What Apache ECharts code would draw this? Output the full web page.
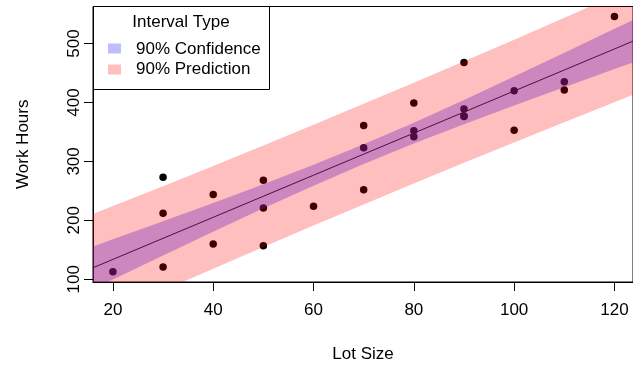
<!DOCTYPE html>
<html>
<head>
<meta charset="utf-8">
<script src="https://cdn.jsdelivr.net/npm/echarts@6/dist/echarts.min.js"></script>
<style>html,body{margin:0;padding:0;background:#fff;}#c{width:633px;height:371px;}</style>
</head>
<body>
<div id="c"></div>
<script>
// Observations
var lotSize = [80,30,50,90,70,60,120,80,100,50,40,70,90,20,110,100,30,50,90,110,30,90,40,80,70];
var workHours = [399,121,221,376,361,224,546,352,353,157,160,252,389,113,435,420,212,268,377,421,273,468,244,342,323];
// Band / fit values read along the lot-size grid
var bandX = [16,20,30,40,50,60,70,80,90,100,110,120,124];
var fitY = [119.49,133.77,169.47,205.17,240.88,276.58,312.28,347.98,383.68,419.39,455.09,490.79,505.07];
var ciLower = [83.28,99.65,140.39,180.71,220.35,258.82,295.55,330.22,363.15,394.93,426.01,456.67,468.86];
var ciUpper = [155.70,167.89,198.55,229.63,261.41,294.34,329.01,365.74,404.21,443.85,484.17,524.91,541.28];
var piLower = [28.32,43.41,80.89,118.00,154.73,191.05,226.95,262.45,297.53,332.22,366.51,400.43,413.90];
var piUpper = [210.66,224.13,258.05,292.34,327.03,362.11,397.61,433.51,469.83,506.56,543.67,581.15,596.24];
var xTicks = [20,40,60,80,100,120];
var yTicks = [100,200,300,400,500];
var legendNames = ['90% Confidence','90% Prediction'];

function pairs(xs, ys){ return xs.map(function(x,i){ return [x, ys[i]]; }); }
function bandSeries(name, lo, hi, fill, z){
  return {
    type:'custom', name:name, clip:true, z:z, data:[[bandX[0], lo[0]]],
    renderItem:function(params, api){
      var pts = [];
      for (var i=0;i<bandX.length;i++) pts.push(api.coord([bandX[i], hi[i]]));
      for (var j=bandX.length-1;j>=0;j--) pts.push(api.coord([bandX[j], lo[j]]));
      return {type:'polygon', shape:{points:pts}, style:{fill:fill}};
    }
  };
}

var FONT = 'Liberation Sans, Arial, sans-serif';
var chart = echarts.init(document.getElementById('c'), null, {renderer:'canvas'});
chart.setOption({
  animation:false,
  backgroundColor:'#fff',
  grid:{left:93, top:6.5, width:542, height:275.5, show:true, borderColor:'#000', borderWidth:1, backgroundColor:'transparent'},
  xAxis:{
    type:'value', min:16.03, max:123.7,
    name:'Lot Size', nameLocation:'middle', nameGap:64,
    nameTextStyle:{fontFamily:FONT, fontSize:17, color:'#000'},
    axisLine:{show:true, lineStyle:{color:'#000'}},
    axisTick:{show:true, length:9, lineStyle:{color:'#000'}, customValues:xTicks},
    axisLabel:{fontFamily:FONT, fontSize:17, color:'#000', margin:20, customValues:xTicks},
    splitLine:{show:false}
  },
  yAxis:{
    type:'value', min:95.4, max:562.8,
    name:'Work Hours', nameLocation:'middle', nameGap:61,
    nameTextStyle:{fontFamily:FONT, fontSize:17, color:'#000'},
    axisLine:{show:true, lineStyle:{color:'#000'}},
    axisTick:{show:true, length:9, lineStyle:{color:'#000'}, customValues:yTicks},
    axisLabel:{fontFamily:FONT, fontSize:17, color:'#000', margin:10, rotate:90, align:'center', verticalAlign:'bottom', customValues:yTicks},
    splitLine:{show:false}
  },
  series:[
    {type:'scatter', data:pairs(lotSize, workHours), symbolSize:7.5, itemStyle:{color:'#000', opacity:1}, z:2},
    {type:'line', data:pairs(bandX, fitY), symbol:'none', lineStyle:{color:'#000', width:1}, z:2},
    bandSeries(legendNames[1], piLower, piUpper, 'rgba(255,0,0,0.25)', 3),
    bandSeries(legendNames[0], ciLower, ciUpper, 'rgba(109,34,188,0.35)', 4)
  ],
  graphic:[
    {type:'rect', z:100, shape:{x:93.5, y:6.5, width:176, height:83}, style:{fill:'#fff', stroke:'#000', lineWidth:1}},
    {type:'text', z:101, x:181, y:22, style:{text:'Interval Type', font:'17px '+FONT, fill:'#000', textAlign:'center', textVerticalAlign:'middle'}},
    {type:'rect', z:101, shape:{x:108, y:43.5, width:13, height:10}, style:{fill:'#BEBEFF'}},
    {type:'rect', z:101, shape:{x:108, y:64.5, width:13, height:10}, style:{fill:'#FFBFBF'}},
    {type:'text', z:101, x:136, y:49, style:{text:legendNames[0], font:'17px '+FONT, fill:'#000', textAlign:'left', textVerticalAlign:'middle'}},
    {type:'text', z:101, x:136, y:69.5, style:{text:legendNames[1], font:'17px '+FONT, fill:'#000', textAlign:'left', textVerticalAlign:'middle'}}
  ]
});
</script>
</body>
</html>
